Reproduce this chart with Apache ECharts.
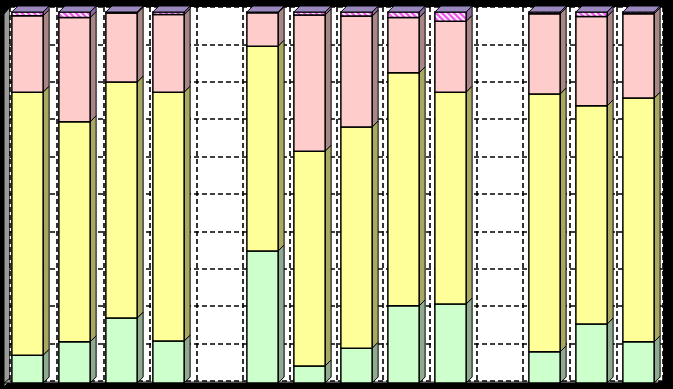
<!DOCTYPE html>
<html>
<head>
<meta charset="utf-8">
<script src="https://cdn.jsdelivr.net/npm/echarts@6/dist/echarts.min.js"></script>
<style>html,body{margin:0;padding:0;background:#000;}#c{width:673px;height:389px;}</style>
</head>
<body>
<div id="c"></div>
<script>
// Categories (two empty slots)
var categories = ['1','2','3','4','5','6','7','8','9','10','11','12','13','14'];
// Series values (percent), bottom to top
var greenVals  = [7.5, 11.1, 17.5, 11.3, null, 35.6, 4.6, 9.4, 20.8, 21.3, null, 8.4, 15.9, 11.1];
var yellowVals = [70.9, 59.3, 63.6, 67.1, null, 55.2, 57.9, 59.6, 62.8, 57.1, null, 69.5, 58.8, 65.7];
var pinkVals   = [20.6, 28.1, 18.6, 20.9, null, 9.0, 36.7, 29.9, 14.9, 19.1, null, 21.6, 24.1, 22.7];
var purpleVals = [1.0, 1.5, 0.3, 0.7, null, 0.2, 0.8, 1.1, 1.5, 2.5, null, 0.5, 1.2, 0.5];
var yTicks = [0,10,20,30,40,50,60,70,80,90,100];

// hatched magenta pattern for the top series
var pat = document.createElement('canvas');
pat.width = 6; pat.height = 6;
(function(){
  var g = pat.getContext('2d');
  g.fillStyle = '#F060F0'; g.fillRect(0,0,6,6);
  g.strokeStyle = '#FFFFFF'; g.lineWidth = 1.6;
  g.beginPath(); g.moveTo(0,0); g.lineTo(6,6); g.moveTo(-3,3); g.lineTo(3,9); g.moveTo(3,-3); g.lineTo(9,3); g.stroke();
})();

var seriesDefs = [
  {name:'A', vals:greenVals,  front:'#CCFFCC', side:'#8FAA8F', top:'#A8CCA8'},
  {name:'B', vals:yellowVals, front:'#FFFF99', side:'#A8A860', top:'#CCCC77'},
  {name:'C', vals:pinkVals,   front:'#FFCCCC', side:'#A88686', top:'#CCA0A0'},
  {name:'D', vals:purpleVals, front:{image:pat, repeat:'repeat'}, side:'#8A6A9A', top:'#9A88BE'}
];

var cum = categories.map(function(){return 0;});
var DEPTH = 6;
var series = seriesDefs.map(function(def, si){
  var data = def.vals.map(function(v, i){
    if (v === null) return [i, null, null];
    var b = cum[i]; cum[i] += v;
    return [i, b, cum[i]];
  });
  var isTop = (si === seriesDefs.length - 1);
  return {
    type:'custom', name:def.name, xAxisIndex:1, yAxisIndex:1,
    data:data,
    renderItem:function(params, api){
      var b = api.value(1), t = api.value(2);
      if (b === null || t === null || isNaN(b)) return null;
      var i = api.value(0);
      var pb = api.coord([i, b]);
      var pt = api.coord([i, t]);
      var bw = api.size([1, 0])[0] * 0.665;
      var x0 = pb[0] - bw/2, x1 = pb[0] + bw/2;
      var yb = pb[1], yt = pt[1];
      var d = DEPTH;
      var children = [];
      children.push({type:'polygon', shape:{points:[[x1,yb],[x1+d,yb-d],[x1+d,yt-d],[x1,yt]]},
        style:{fill:def.side, stroke:'#000', lineWidth:1}});
      children.push({type:'rect', shape:{x:x0, y:yt, width:bw, height:yb-yt},
        style:{fill:def.front, stroke:'#000', lineWidth:1.5}});
      if (isTop) {
        children.push({type:'polygon', shape:{points:[[x0,yt],[x1,yt],[x1+d,yt-d],[x0+d,yt-d]]},
          style:{fill:def.top, stroke:'#000', lineWidth:1}});
      }
      return {type:'group', children:children};
    }
  };
});

var chart = echarts.init(document.getElementById('c'), null, {renderer:'canvas'});
chart.setOption({
  backgroundColor:'#000',
  animation:false,
  graphic:[
    {type:'polygon', z:-1, shape:{points:[[4,14],[10,7],[10,381],[4,387]]}, style:{fill:'#9a9a9a', stroke:'#000', lineWidth:1}},
    {type:'polygon', z:-1, shape:{points:[[4,383],[10,378],[664,378],[658,383]]}, style:{fill:'#9a9a9a', stroke:'#000', lineWidth:1}}
  ],
  grid:[
    {left:10, right:10, top:7, bottom:8, show:true, backgroundColor:'#fff', borderWidth:0},
    {left:4, right:11, top:12, bottom:6}
  ],
  xAxis:[
    {type:'category', gridIndex:0, data:categories, boundaryGap:true,
     axisLine:{show:false}, axisTick:{show:false}, axisLabel:{show:false},
     splitLine:{show:true, lineStyle:{color:'#000', type:[5,3], width:1.6}}},
    {type:'category', gridIndex:1, data:categories, show:false}
  ],
  yAxis:[
    {type:'value', gridIndex:0, min:0, max:100, interval:10,
     axisLine:{show:false}, axisTick:{show:false}, axisLabel:{show:false},
     splitLine:{show:true, lineStyle:{color:'#000', type:[5,3], width:1.6}}},
    {type:'value', gridIndex:1, min:0, max:100, interval:10, show:false}
  ],
  series:series
});
</script>
</body>
</html>
